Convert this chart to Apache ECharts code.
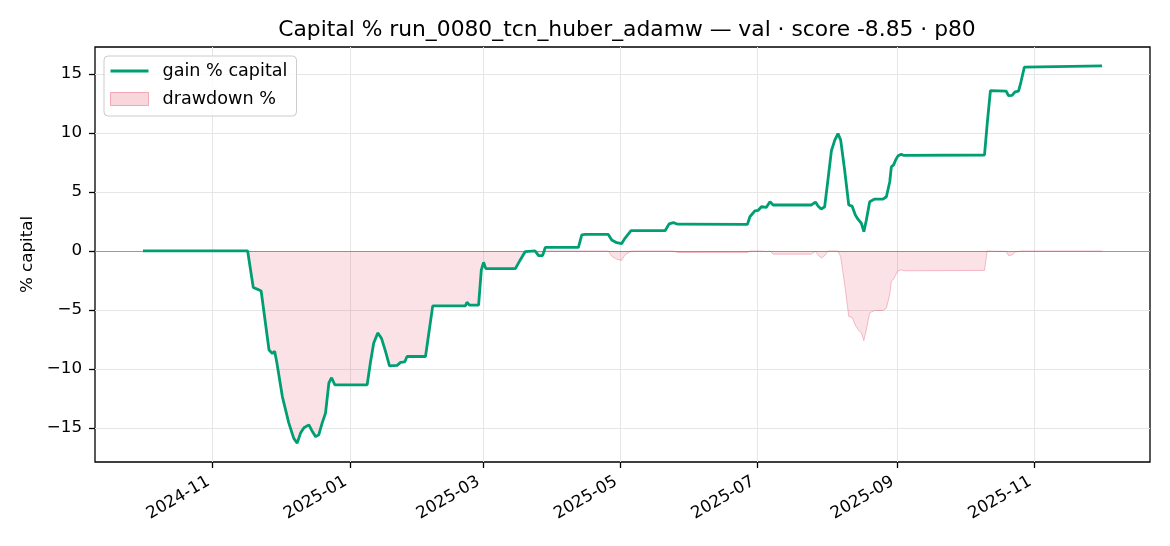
<!DOCTYPE html>
<html><head><meta charset="utf-8">
<script src="https://cdn.jsdelivr.net/npm/echarts@6/dist/echarts.min.js"></script>
<style>html,body{margin:0;padding:0;background:#fff}#c{width:1170px;height:546px}</style>
</head><body><div id="c"></div><script>
const titleText = 'Capital % run_0080_tcn_huber_adamw \u2014 val \u00b7 score -8.85 \u00b7 p80';
const gainName = 'gain % capital';
const ddName = 'drawdown %';
const yAxisName = '% capital';

const gainDates = ['2024-10-01','2024-11-16T12','2024-11-19','2024-11-21T12','2024-11-22T12','2024-11-26','2024-11-27T12','2024-11-28T12','2024-11-29T12','2024-12-01T22','2024-12-04T19','2024-12-07','2024-12-08T12','2024-12-10','2024-12-11T12','2024-12-13T17','2024-12-14T22','2024-12-16T17','2024-12-18T02','2024-12-19T14','2024-12-21T02','2024-12-22T14','2024-12-23T19','2024-12-25T05','2025-01-08T14','2025-01-10','2025-01-11T12','2025-01-13T07','2025-01-14T22','2025-01-16T17','2025-01-18T12','2025-01-21T22','2025-01-23T10','2025-01-25T07','2025-01-26T07','2025-02-03T12','2025-02-06T17','2025-02-21T05','2025-02-21T22','2025-02-23','2025-02-27T02','2025-02-28T07','2025-03-01T07','2025-03-02T07','2025-03-15T10','2025-03-17T14','2025-03-19T19','2025-03-24T05','2025-03-25T17','2025-03-27T12','2025-03-28T17','2025-04-12T10','2025-04-13T22','2025-04-15T10','2025-04-25T17','2025-04-27T05','2025-04-29T10','2025-05-01T14','2025-05-03T02','2025-05-05T19','2025-05-20T22','2025-05-22T17','2025-05-24T14','2025-05-26T12','2025-06-26T12','2025-06-27T14','2025-06-29T19','2025-07-01T07','2025-07-02T17','2025-07-04T22','2025-07-06T12','2025-07-07T22','2025-07-24T22','2025-07-26T17','2025-07-27T22','2025-07-29T07','2025-07-30T19','2025-08-01T07','2025-08-02T19','2025-08-04T07','2025-08-05T17','2025-08-06T22','2025-08-08T17','2025-08-10T12','2025-08-12','2025-08-13T10','2025-08-14T14','2025-08-16T02','2025-08-17T05','2025-08-18T07','2025-08-19T19','2025-08-22','2025-08-25T17','2025-08-26T10','2025-08-27T05','2025-08-28T17','2025-08-29T10','2025-08-30T10','2025-08-31T07','2025-09-01T07','2025-09-02T19','2025-09-04','2025-10-09T19','2025-10-11','2025-10-12T10','2025-10-19T10','2025-10-20T10','2025-10-22','2025-10-23T10','2025-10-24T22','2025-10-26','2025-10-27T12','2025-10-28T05','2025-12-01'];
const gainValues = [0,0,-3.1,-3.3,-3.4,-8.4,-8.7,-8.5,-9.5,-12.35,-14.6,-15.9,-16.3,-15.45,-15.0,-14.75,-15.2,-15.75,-15.6,-14.6,-13.75,-11.2,-10.75,-11.35,-11.35,-9.5,-7.8,-6.95,-7.4,-8.5,-9.75,-9.7,-9.45,-9.4,-8.95,-8.95,-4.66,-4.66,-4.35,-4.6,-4.6,-1.6,-0.96,-1.5,-1.5,-0.76,-0.05,0,-0.4,-0.4,0.31,0.31,1.36,1.4,1.4,0.93,0.7,0.62,1.07,1.72,1.72,2.3,2.4,2.27,2.26,2.9,3.4,3.45,3.75,3.7,4.18,3.9,3.9,4.15,3.8,3.55,3.75,6.1,8.5,9.4,9.95,9.4,6.8,3.9,3.8,3.05,2.7,2.35,1.64,2.6,4.18,4.4,4.4,4.3,4.6,5.87,7.14,7.3,7.7,8.05,8.2,8.1,8.14,10.8,13.6,13.55,13.17,13.2,13.5,13.56,14.35,15.6,15.7,15.7];

const ddDates = ['2024-10-01','2024-11-16T12','2024-11-19','2024-11-21T12','2024-11-22T12','2024-11-26','2024-11-27T12','2024-11-28T12','2024-11-29T12','2024-12-01T22','2024-12-04T19','2024-12-07','2024-12-08T12','2024-12-10','2024-12-11T12','2024-12-13T17','2024-12-14T22','2024-12-16T17','2024-12-18T02','2024-12-19T14','2024-12-21T02','2024-12-22T14','2024-12-23T19','2024-12-25T05','2025-01-08T14','2025-01-10','2025-01-11T12','2025-01-13T07','2025-01-14T22','2025-01-16T17','2025-01-18T12','2025-01-21T22','2025-01-23T10','2025-01-25T07','2025-01-26T07','2025-02-03T12','2025-02-06T17','2025-02-21T05','2025-02-21T22','2025-02-23','2025-02-27T02','2025-02-28T07','2025-03-01T07','2025-03-02T07','2025-03-15T10','2025-03-17T14','2025-03-19T19','2025-03-24T05','2025-03-25T17','2025-03-27T12','2025-03-28T17','2025-04-25T17','2025-04-27T05','2025-04-29T10','2025-05-01T14','2025-05-03T02','2025-05-05T19','2025-05-24T14','2025-05-26T12','2025-06-26T12','2025-06-27T14','2025-07-02T17','2025-07-04T22','2025-07-06T12','2025-07-07T22','2025-07-24T22','2025-07-26T17','2025-07-27T22','2025-07-29T07','2025-07-30T19','2025-08-01T07','2025-08-05T17','2025-08-06T22','2025-08-08T17','2025-08-10T12','2025-08-12','2025-08-13T10','2025-08-14T14','2025-08-16T02','2025-08-17T05','2025-08-18T07','2025-08-19T19','2025-08-22','2025-08-25T17','2025-08-26T10','2025-08-27T05','2025-08-28T17','2025-08-29T10','2025-08-30T10','2025-08-31T07','2025-09-01T07','2025-09-02T19','2025-09-04','2025-10-09T19','2025-10-11','2025-10-19T10','2025-10-20T10','2025-10-22','2025-10-23T10','2025-10-24T22','2025-10-26','2025-12-01'];
const ddValues = [0,0,-3.1,-3.3,-3.4,-8.4,-8.7,-8.5,-9.5,-12.35,-14.6,-15.9,-16.3,-15.45,-15.0,-14.75,-15.2,-15.75,-15.6,-14.6,-13.75,-11.2,-10.75,-11.35,-11.35,-9.5,-7.8,-6.95,-7.4,-8.5,-9.75,-9.7,-9.45,-9.4,-8.95,-8.95,-4.66,-4.66,-4.35,-4.6,-4.6,-1.6,-0.96,-1.5,-1.5,-0.76,-0.05,0,-0.4,-0.4,0,0,-0.45,-0.7,-0.8,-0.35,0,0,-0.13,-0.14,0,0,-0.05,0,-0.27,-0.27,-0.03,-0.36,-0.6,-0.41,0,0,-0.5,-2.9,-5.55,-5.65,-6.3,-6.65,-6.95,-7.6,-6.7,-5.25,-5.05,-5.05,-5.1,-4.85,-3.7,-2.55,-2.4,-2.05,-1.7,-1.6,-1.68,-1.65,0,-0.04,-0.38,-0.35,-0.09,-0.04,0,0];

const xTickLabels = ['2024-11','2025-01','2025-03','2025-05','2025-07','2025-09','2025-11'];
const yTicks = [-15,-10,-5,0,5,10,15];

function ts(s){
  const parts = s.split('T');
  const ymd = parts[0].split('-').map(Number);
  return Date.UTC(ymd[0], ymd[1]-1, ymd[2] || 1, parts[1] ? Number(parts[1]) : 0);
}
const gainData = gainDates.map((d,i)=>[ts(d), gainValues[i]]);
const ddData = ddDates.map((d,i)=>[ts(d), ddValues[i]]);
const xTicks = xTickLabels.map(ts);
const t0 = ts(gainDates[0]), t1 = ts(gainDates[gainDates.length-1]);
const pad = (t1 - t0) * 0.05;
const allV = gainValues.concat(ddValues);
const vmin = Math.min(...allV), vmax = Math.max(...allV);
const vpad = (vmax - vmin) * 0.05;

const FONT = 'DejaVu Sans';
const chart = echarts.init(document.getElementById('c'), null, {renderer:'canvas'});
const fmtY = v => (v < 0 ? '\u2212' + Math.abs(v) : String(v));
const fmtX = v => { const d = new Date(v); return d.getUTCFullYear() + '-' + String(d.getUTCMonth()+1).padStart(2,'0'); };

chart.setOption({
  animation: false,
  backgroundColor: '#ffffff',
  title: {
    text: titleText, left: 622, top: 14, textAlign: 'center',
    textStyle: {fontFamily: FONT, fontSize: 21.8, fontWeight: 'normal', color: '#000'}
  },
  legend: {
    left: 104, top: 56, orient: 'vertical',
    backgroundColor: 'rgba(255,255,255,0.8)', borderColor: '#cccccc', borderWidth: 1, borderRadius: 4,
    padding: [6, 9, 8, 6], itemWidth: 38, itemHeight: 13, itemGap: 10,
    textStyle: {fontFamily: FONT, fontSize: 17.6, color: '#000', lineHeight: 18, padding: [0,0,0,9]},
    data: [
      {name: gainName, icon: 'path://M0,0H38V3H0Z', itemStyle: {color: '#009E73'}},
      {name: ddName, icon: 'rect', itemStyle: {color: 'rgba(220,20,60,0.18)', borderColor: 'rgba(220,20,60,0.3)', borderWidth: 1}}
    ]
  },
  grid: {left: 95, right: 20, top: 47, bottom: 84, show: true, borderColor: '#000', borderWidth: 1.3, backgroundColor: 'transparent'},
  xAxis: {
    type: 'value', min: t0 - pad, max: t1 + pad,
    axisLine: {show: false, onZero: false},
    axisTick: {show: true, inside: false, length: 6, lineStyle: {color: '#000', width: 1.3}, customValues: xTicks},
    axisLabel: {customValues: xTicks, formatter: fmtX, rotate: 30, margin: 16, padding: [0, 5, 0, 0], fontFamily: FONT, fontSize: 16.7, color: '#000'},
    splitLine: {show: true, lineStyle: {color: '#e6e6e6', width: 1}}
  },
  yAxis: {
    type: 'value', min: vmin - vpad, max: vmax + vpad,
    name: yAxisName, nameLocation: 'middle', nameGap: 58,
    nameTextStyle: {fontFamily: FONT, fontSize: 16.7, color: '#000'},
    axisLine: {show: false, onZero: false},
    axisTick: {show: true, inside: false, length: 6, lineStyle: {color: '#000', width: 1.3}, customValues: yTicks},
    axisLabel: {customValues: yTicks, formatter: fmtY, margin: 13, fontFamily: FONT, fontSize: 16.7, color: '#000'},
    splitLine: {show: true, lineStyle: {color: '#e6e6e6', width: 1}}
  },
  series: [
    {
      name: ddName, type: 'line', data: ddData, symbol: 'none', z: 2,
      lineStyle: {color: 'rgba(220,20,60,0.25)', width: 1},
      itemStyle: {color: 'rgba(220,20,60,0.18)'},
      areaStyle: {color: 'rgba(220,20,60,0.18)', origin: 0}
    },
    {
      name: gainName, type: 'line', data: gainData, symbol: 'none', z: 4,
      lineStyle: {color: '#009E73', width: 2.8},
      itemStyle: {color: '#009E73'},
      markLine: {silent: true, symbol: 'none', label: {show: false}, z: 1,
        lineStyle: {color: '#9a9aa6', width: 1.2, type: 'solid'}, data: [{yAxis: 0}]}
    }
  ]
});
</script></body></html>
